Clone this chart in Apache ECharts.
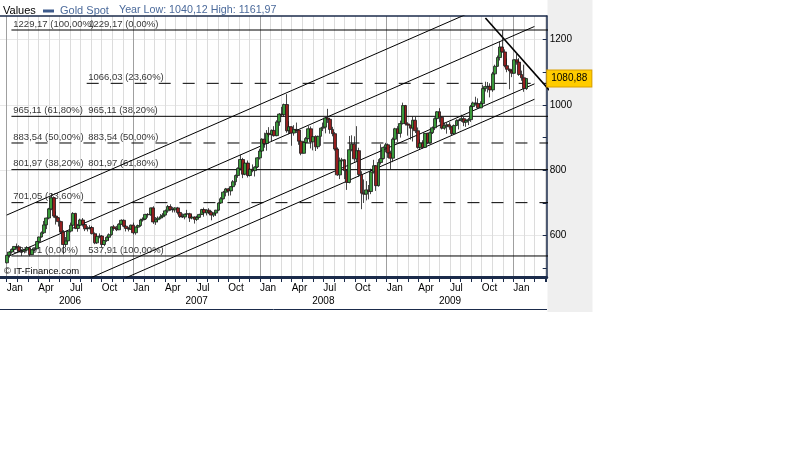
<!DOCTYPE html>
<html><head><meta charset="utf-8">
<script src="https://cdn.jsdelivr.net/npm/echarts@6/dist/echarts.min.js"></script>
<style>html,body{margin:0;padding:0;background:#fff}#c{width:800px;height:450px}</style>
</head><body><div id="c"></div>
<script>
// ---------- data ----------
const seriesName = 'Gold Spot';
const headerTitle = 'Values';
const yearLow = '1040,12';
const yearHigh = '1161,97';
const lastPrice = 1080.88;
const monthLabels = {0:'Jan', 3:'Apr', 6:'Jul', 9:'Oct'};
const yearLabels = ['2006', '2007', '2008', '2009'];
const yTickLabels = [600, 800, 1000, 1200];
const watermark = '\u00A9 IT-Finance.com';

// weekly candles: [week start, open, close, low, high]
const w2006 = [
['2006-01-02',517,540,515,541],['2006-01-09',540,550,533,553],['2006-01-16',550,558,545,561],['2006-01-23',558,567,550,568],
['2006-01-30',567,566,559,576],['2006-02-06',566,553,549,571],['2006-02-13',553,552,538,556],['2006-02-20',552,556,546,560],
['2006-02-27',556,563,554,568],['2006-03-06',563,542,537,566],['2006-03-13',542,557,541,559],['2006-03-20',557,560,551,562],
['2006-03-27',560,582,558,584],['2006-04-03',582,596,580,597],['2006-04-10',596,609,594,613],['2006-04-17',609,633,605,645],
['2006-04-24',633,654,620,655],['2006-05-01',654,682,650,685],['2006-05-08',682,716,678,730],['2006-05-15',716,660,655,720],
['2006-05-22',660,655,634,674],['2006-05-29',655,643,628,657],['2006-06-05',643,611,606,646],['2006-06-12',611,573,543,617],
['2006-06-19',573,584,565,596],['2006-06-26',584,614,576,616],['2006-07-03',614,632,610,640],['2006-07-10',632,668,628,672],
['2006-07-17',668,622,620,670],['2006-07-24',622,632,612,636],['2006-07-31',632,648,630,652],['2006-08-07',648,634,628,654],
['2006-08-14',634,621,614,642],['2006-08-21',621,622,613,629],['2006-08-28',622,625,619,632],['2006-09-04',625,606,604,630],
['2006-09-11',606,578,574,610],['2006-09-18',578,598,575,606],['2006-09-25',598,599,592,607],['2006-10-02',599,573,565,602],
['2006-10-09',573,585,568,586],['2006-10-16',585,595,581,598],['2006-10-23',595,603,585,607],['2006-10-30',603,627,600,628],
['2006-11-06',627,622,615,633],['2006-11-13',622,618,614,630],['2006-11-20',618,635,617,638],['2006-11-27',635,647,633,650],
['2006-12-04',647,629,626,650],['2006-12-11',629,622,613,632],['2006-12-18',622,620,613,627],['2006-12-25',620,632,618,634]
];
const w2007 = [
['2007-01-01',632,609,604,640],['2007-01-08',609,626,603,628],['2007-01-15',626,631,623,634],['2007-01-22',631,648,627,652],
['2007-01-29',648,651,643,656],['2007-02-05',651,665,648,667],['2007-02-12',665,664,655,669],['2007-02-19',664,685,661,686],
['2007-02-26',685,642,636,690],['2007-03-05',642,649,633,657],['2007-03-12',649,654,641,659],['2007-03-19',654,658,650,666],
['2007-03-26',658,663,657,669],['2007-04-02',663,676,662,680],['2007-04-09',676,689,670,694],['2007-04-16',689,680,676,696],
['2007-04-23',680,679,671,688],['2007-04-30',679,685,671,687],['2007-05-07',685,671,665,688],['2007-05-14',671,659,654,673],
['2007-05-21',659,657,654,668],['2007-05-28',657,666,650,667],['2007-06-04',666,667,661,679],['2007-06-11',667,654,642,670],
['2007-06-18',654,657,650,664],['2007-06-25',657,650,637,659],['2007-07-02',650,656,645,661],['2007-07-09',656,665,654,667],
['2007-07-16',665,680,663,682],['2007-07-23',680,670,658,686],['2007-07-30',670,678,662,681],['2007-08-06',678,672,666,684],
['2007-08-13',672,663,647,676],['2007-08-20',663,669,657,671],['2007-08-27',669,678,660,679],['2007-09-03',678,700,675,702],
['2007-09-10',700,713,697,718],['2007-09-17',713,733,711,737],['2007-09-24',733,743,720,746],['2007-10-01',743,737,722,746],
['2007-10-08',737,750,723,752],['2007-10-15',750,765,747,770],['2007-10-22',765,784,754,787],['2007-10-29',784,806,777,809],
['2007-11-05',806,833,800,848],['2007-11-12',833,788,776,838],['2007-11-19',788,822,785,826],['2007-11-26',822,784,778,830],
['2007-12-03',784,803,781,807],['2007-12-10',803,799,794,818],['2007-12-17',799,810,781,812],['2007-12-24',810,838,807,840],
['2007-12-31',838,859,833,866]
];
const w2008 = [
['2008-01-07',859,895,856,898],['2008-01-14',895,882,869,915],['2008-01-21',882,913,860,923],['2008-01-28',913,909,902,932],
['2008-02-04',909,922,888,925],['2008-02-11',922,906,903,935],['2008-02-18',906,948,904,953],['2008-02-25',948,972,936,975],
['2008-03-03',972,970,963,994],['2008-03-10',970,1001,963,1004],['2008-03-17',1001,921,915,1033],['2008-03-24',921,933,910,950],
['2008-03-31',933,914,875,935],['2008-04-07',914,925,906,938],['2008-04-14',925,923,914,946],['2008-04-21',923,889,878,925],
['2008-04-28',889,852,846,893],['2008-05-05',852,885,851,890],['2008-05-12',885,897,862,902],['2008-05-19',897,927,895,935],
['2008-05-26',927,887,867,934],['2008-06-02',887,903,861,905],['2008-06-09',903,872,859,907],['2008-06-16',872,904,865,906],
['2008-06-23',904,929,875,930],['2008-06-30',929,932,920,946],['2008-07-07',932,960,913,962],['2008-07-14',960,956,945,988],
['2008-07-21',956,925,912,958],['2008-07-28',925,912,904,933],['2008-08-04',912,865,860,917],['2008-08-11',865,786,783,870],
['2008-08-18',786,829,773,839],['2008-08-25',829,832,818,838],['2008-09-01',832,799,773,834],['2008-09-08',799,763,740,803],
['2008-09-15',763,863,760,905],['2008-09-22',863,880,858,907],['2008-09-29',880,835,826,904],['2008-10-06',835,860,825,935],
['2008-10-13',860,787,780,869],['2008-10-20',787,730,681,797],['2008-10-27',730,727,700,772],['2008-11-03',727,740,708,767],
['2008-11-10',740,735,711,755],['2008-11-17',735,795,727,805],['2008-11-24',795,814,790,832],['2008-12-01',814,753,737,816],
['2008-12-08',753,824,750,834],['2008-12-15',824,836,818,880],['2008-12-22',836,870,833,873],['2008-12-29',870,878,855,884]
];
const w2009 = [
['2009-01-05',878,853,838,882],['2009-01-12',853,837,803,860],['2009-01-19',837,895,825,900],['2009-01-26',895,927,883,930],
['2009-02-02',927,913,887,935],['2009-02-09',913,943,900,952],['2009-02-16',943,998,940,1007],['2009-02-23',998,942,937,1000],
['2009-03-02',942,938,906,947],['2009-03-09',938,929,894,939],['2009-03-16',929,953,888,965],['2009-03-23',953,921,914,964],
['2009-03-30',921,870,866,931],['2009-04-06',870,883,864,895],['2009-04-13',883,870,866,892],['2009-04-20',870,913,868,914],
['2009-04-27',913,884,880,915],['2009-05-04',884,915,882,918],['2009-05-11',915,930,911,934],['2009-05-18',930,958,923,962],
['2009-05-25',958,979,943,981],['2009-06-01',979,962,947,990],['2009-06-08',962,929,925,965],['2009-06-15',929,936,924,946],
['2009-06-22',936,939,912,945],['2009-06-29',939,933,924,947],['2009-07-06',933,912,905,936],['2009-07-13',912,937,910,940],
['2009-07-20',937,952,935,956],['2009-07-27',952,954,925,955],['2009-08-03',954,958,948,970],['2009-08-10',958,947,935,963],
['2009-08-17',947,952,933,953],['2009-08-24',952,955,938,960],['2009-08-31',955,995,948,1000],['2009-09-07',995,1006,984,1010],
['2009-09-14',1006,1004,998,1025],['2009-09-21',1004,991,988,1020],['2009-09-28',991,1004,990,1011],['2009-10-05',1004,1050,1000,1062],
['2009-10-12',1050,1056,1041,1071],['2009-10-19',1056,1057,1038,1070],['2009-10-26',1057,1046,1023,1066],['2009-11-02',1046,1095,1040,1101],
['2009-11-09',1095,1118,1092,1123],['2009-11-16',1118,1145,1116,1151],['2009-11-23',1145,1177,1136,1195],['2009-11-30',1177,1162,1160,1229.17],
['2009-12-07',1162,1120,1115,1170],['2009-12-14',1120,1109,1100,1142],['2009-12-21',1109,1104,1048,1111],['2009-12-28',1104,1097,1085,1107]
];
const w2010 = [
['2010-01-04',1097,1138,1096,1140],['2010-01-11',1138,1131,1123,1161.97],['2010-01-18',1131,1093,1089,1143],
['2010-01-25',1093,1083,1074,1105],['2010-02-01',1083,1050,1040.12,1123],['2010-02-08',1050,1080.88,1046,1082]
];

// Fibonacci levels
const fibLevels   = [1229.17, 1066.03, 965.11, 883.54, 801.97, 701.05, 537.91];
const fibDashed   = [false, true, false, true, false, true, false];
const fibStarts   = ['2006-01-15','2006-08-19','2006-01-15','2006-01-15','2006-01-15','2006-01-15','2006-01-15'];
const fibLabelsA  = ['1229,17 (100,00%)', '', '965,11 (61,80%)', '883,54 (50,00%)', '801,97 (38,20%)', '701,05 (23,60%)', '537,91 (0,00%)'];
const fibLabelsB  = ['1229,17 (0,00%)', '1066,03 (23,60%)', '965,11 (38,20%)', '883,54 (50,00%)', '801,97 (61,80%)', '', '537,91 (100,00%)'];
const fibLabelDateA = '2006-01-19';
const fibLabelDateB = '2006-08-22';

// trend lines: [start date, start value, end date, end value]
const channelLines = [
  ['2006-01-01', 663.0, '2010-03-01', 1368.5],
  ['2006-01-01', 534.5, '2010-03-01', 1240.0],
  ['2006-01-01', 358.9, '2010-03-01', 1064.4],
  ['2006-01-01', 311.8, '2010-03-01', 1017.3]
];
const downLine = ['2009-10-12', 1266.0, '2010-04-30', 1024.9];

// ---------- chart ----------
const NAVY = '#1b2b4b';
const FONT = '"Liberation Sans", Arial, sans-serif';
function toM(s) {
  const p = s.split('-').map(Number);
  const dim = new Date(p[0], p[1], 0).getDate();
  return (p[0] - 2006) * 12 + (p[1] - 1) + (p[2] - 1) / dim;
}
const X_MIN = -1, X_MAX = 51.159;
const Y_MIN = 473.59, Y_MAX = 1272.0;

const candles = [].concat(w2006, w2007, w2008, w2009, w2010).map(r => [toM(r[0]), r[1], r[2], r[3], r[4]]);

const series = [];
series.push({
  type: 'scatter', xAxisIndex: 0, yAxisIndex: 0, silent: true, z: 1,
  symbolSize: 1, itemStyle: {color: 'transparent'},
  label: {show: true, position: 'right', distance: 0, offset: [0, -6], formatter: '{b}',
          fontSize: 9.5, fontFamily: FONT, color: '#000'},
  data: fibLevels.flatMap((lv, i) => {
    const out = [];
    if (fibLabelsA[i]) out.push({name: fibLabelsA[i], value: [toM(fibLabelDateA), lv]});
    if (fibLabelsB[i]) out.push({name: fibLabelsB[i], value: [toM(fibLabelDateB), lv]});
    return out;
  })
});
fibLevels.forEach((lv, i) => {
  series.push({
    type: 'line', xAxisIndex: 0, yAxisIndex: 0, silent: true, z: 2, symbol: 'none',
    lineStyle: {color: '#000', width: 1, type: fibDashed[i] ? [12, 12] : 'solid'},
    data: [[toM(fibStarts[i]), lv], [X_MAX + 1, lv]]
  });
});
channelLines.forEach(l => {
  series.push({
    type: 'line', xAxisIndex: 0, yAxisIndex: 0, silent: true, z: 3, symbol: 'none',
    lineStyle: {color: '#000', width: 1},
    data: [[toM(l[0]), l[1]], [toM(l[2]), l[3]]]
  });
});
series.push({
  type: 'line', xAxisIndex: 0, yAxisIndex: 0, silent: true, z: 3, symbol: 'none',
  lineStyle: {color: '#000', width: 1.6},
  data: [[toM(downLine[0]), downLine[1]], [toM(downLine[2]), downLine[3]]]
});
series.push({
  type: 'candlestick', name: seriesName, xAxisIndex: 0, yAxisIndex: 0, z: 5,
  data: candles, encode: {x: 0, y: [1, 2, 3, 4]},
  barWidth: 3.4,
  itemStyle: {color: '#3a9a3a', color0: '#951f1f', borderColor: '#1a1a1a', borderColor0: '#1a1a1a', borderWidth: 0.8},
  markLine: {
    silent: true, animation: false, symbol: ['none', 'none'],
    lineStyle: {color: 'transparent', width: 1},
    data: [{yAxis: lastPrice}],
    label: {show: true, position: 'end', distance: 0.5,
            formatter: () => lastPrice.toFixed(2).replace('.', ','),
            backgroundColor: '#ffcc00', borderColor: '#d9a000', borderWidth: 1,
            padding: [2, 4, 2, 4], lineHeight: 12, color: '#000', fontSize: 10, fontFamily: FONT}
  }
});

function intOf(v) { const r = Math.round(v); return Math.abs(v - r) < 1e-6 ? r : null; }
const monthFmt = v => { const r = intOf(v); if (r === null || r < 0 || r > 48) return ''; const k = ((r % 12) + 12) % 12; return monthLabels[k] || ''; };
const yearFmt = v => { const r = intOf(v); if (r === null || r < 0) return ''; if (r % 12 !== 6) return ''; return yearLabels[(r - 6) / 12] || ''; };
const splitColors = ['#dcdcdc', '#a0a0a0', '#dcdcdc', '#dcdcdc', '#dcdcdc', '#dcdcdc', '#dcdcdc', '#dcdcdc', '#dcdcdc', '#dcdcdc', '#dcdcdc', '#dcdcdc'];

const option = {
  animation: false,
  backgroundColor: '#fff',
  grid: [
    {left: -3.886, right: 253.3, top: 16, bottom: 173, containLabel: false, outerBoundsMode: 'none'},
    {left: -3.886, right: 253.3, top: 39.54, bottom: 181.63, containLabel: false, outerBoundsMode: 'none'}
  ],
  xAxis: [
    {gridIndex: 0, type: 'value', min: X_MIN, max: X_MAX, interval: 1, position: 'bottom',
     axisLine: {show: true, onZero: false, lineStyle: {color: NAVY, width: 3}},
     axisTick: {show: true, inside: false, length: 5, lineStyle: {color: NAVY, width: 1}},
     axisLabel: {show: true, formatter: monthFmt, align: 'left', margin: 6, fontSize: 10, fontFamily: FONT, color: '#000', showMinLabel: true, showMaxLabel: true},
     splitLine: {show: true, lineStyle: {color: splitColors, width: 1}}},
    {gridIndex: 0, type: 'value', min: X_MIN, max: X_MAX, interval: 1, position: 'bottom', offset: 13,
     axisLine: {show: false, onZero: false}, axisTick: {show: false},
     axisLabel: {show: true, formatter: yearFmt, align: 'center', margin: 6, fontSize: 10, fontFamily: FONT, color: '#000'},
     splitLine: {show: false}},
    {gridIndex: 0, type: 'value', min: X_MIN, max: X_MAX, position: 'top',
     axisLine: {show: true, onZero: false, lineStyle: {color: NAVY, width: 1.5}},
     axisTick: {show: false}, axisLabel: {show: false}, splitLine: {show: false}},
    {gridIndex: 1, type: 'value', min: X_MIN, max: X_MAX, show: false, splitLine: {show: false}}
  ],
  yAxis: [
    {gridIndex: 0, type: 'value', min: Y_MIN, max: Y_MAX, position: 'right',
     axisLine: {show: true, onZero: false, lineStyle: {color: NAVY, width: 1.5}},
     axisTick: {show: false}, axisLabel: {show: false}, splitLine: {show: false}},
    {gridIndex: 1, type: 'value', min: 500, max: 1200, interval: 100, position: 'right',
     axisLine: {show: false, onZero: false},
     axisTick: {show: true, inside: true, length: 4, lineStyle: {color: NAVY, width: 1}},
     axisLabel: {show: true, margin: 3, fontSize: 10, fontFamily: FONT, color: '#000',
                 formatter: v => { const r = intOf(v); return (r !== null && yTickLabels.indexOf(r) >= 0) ? String(r) : ''; }},
     splitLine: {show: true, lineStyle: {color: ['transparent', '#e8e8e8'], width: 1}}}
  ],
  graphic: [
    {type: 'rect', z: -1, shape: {x: 547.5, y: 0, width: 45, height: 312}, style: {fill: '#efefef'}, silent: true},
    {type: 'line', shape: {x1: 0, y1: 309.5, x2: 547, y2: 309.5}, style: {stroke: NAVY, lineWidth: 1}, silent: true},
    {type: 'text', x: 3, y: 10.5, style: {text: headerTitle, fill: '#000', font: '11px ' + FONT, verticalAlign: 'middle'}},
    {type: 'rect', shape: {x: 43, y: 9.5, width: 11, height: 3}, style: {fill: '#3d5b8c'}},
    {type: 'text', x: 60, y: 10.5, style: {text: seriesName, fill: '#4b6a9b', font: '11px ' + FONT, verticalAlign: 'middle'}},
    {type: 'text', x: 119, y: 10.5, style: {text: 'Year Low: ' + yearLow + ' High: ' + yearHigh, fill: '#4b6a9b', font: '10.7px ' + FONT, verticalAlign: 'middle'}},
    {type: 'text', x: 4, y: 271, z: 10, style: {text: watermark, fill: '#000', font: '9.5px ' + FONT, verticalAlign: 'middle'}}
  ],
  series: series
};
const chart = echarts.init(document.getElementById('c'), null, {renderer: 'canvas', width: 800, height: 450});
chart.setOption(option);
</script>
</body></html>
